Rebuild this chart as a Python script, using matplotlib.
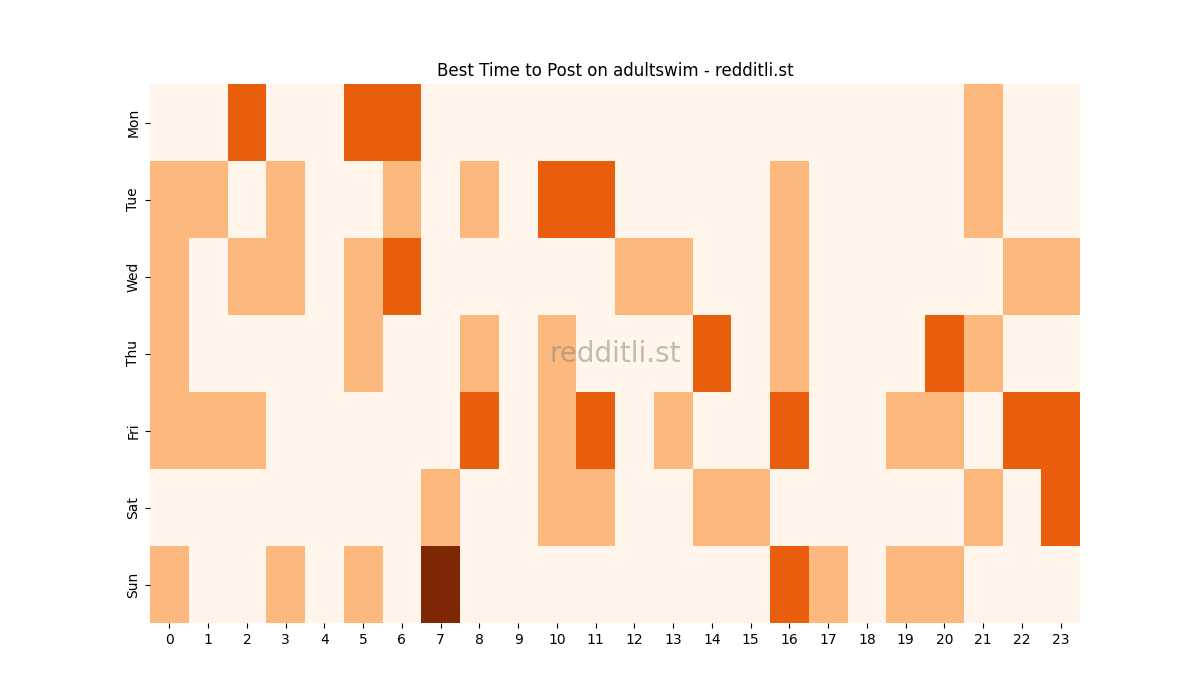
import matplotlib
matplotlib.use("Agg")
import matplotlib.pyplot as plt
import numpy as np

days = ["Mon", "Tue", "Wed", "Thu", "Fri", "Sat", "Sun"]
hours = list(range(24))

# posts per day/hour
mon = [0, 0, 2, 0, 0, 2, 2, 0, 0, 0, 0, 0, 0, 0, 0, 0, 0, 0, 0, 0, 0, 1, 0, 0]
tue = [1, 1, 0, 1, 0, 0, 1, 0, 1, 0, 2, 2, 0, 0, 0, 0, 1, 0, 0, 0, 0, 1, 0, 0]
wed = [1, 0, 1, 1, 0, 1, 2, 0, 0, 0, 0, 0, 1, 1, 0, 0, 1, 0, 0, 0, 0, 0, 1, 1]
thu = [1, 0, 0, 0, 0, 1, 0, 0, 1, 0, 1, 0, 0, 0, 2, 0, 1, 0, 0, 0, 2, 1, 0, 0]
fri = [1, 1, 1, 0, 0, 0, 0, 0, 2, 0, 1, 2, 0, 1, 0, 0, 2, 0, 0, 1, 1, 0, 2, 2]
sat = [0, 0, 0, 0, 0, 0, 0, 1, 0, 0, 1, 1, 0, 0, 1, 1, 0, 0, 0, 0, 0, 1, 0, 2]
sun = [1, 0, 0, 1, 0, 1, 0, 3, 0, 0, 0, 0, 0, 0, 0, 0, 2, 1, 0, 1, 1, 0, 0, 0]

grid = np.array([mon, tue, wed, thu, fri, sat, sun])

fig, ax = plt.subplots(figsize=(12, 7), dpi=100)
ax.pcolormesh(grid, cmap="Oranges", vmin=0, vmax=grid.max())
ax.set_xlim(0, len(hours))
ax.set_ylim(len(days), 0)

ax.set_xticks(np.arange(len(hours)) + 0.5)
ax.set_xticklabels(hours)
ax.set_yticks(np.arange(len(days)) + 0.5)
ax.set_yticklabels(days, rotation=90, va="center")
for s in ax.spines.values():
    s.set_visible(False)

ax.set_title("Best Time to Post on adultswim - redditli.st")
ax.text(0.5, 0.5, "redditli.st", transform=ax.transAxes, fontsize=20,
        color="gray", alpha=0.5, ha="center", va="center")

fig.savefig("out.png")
